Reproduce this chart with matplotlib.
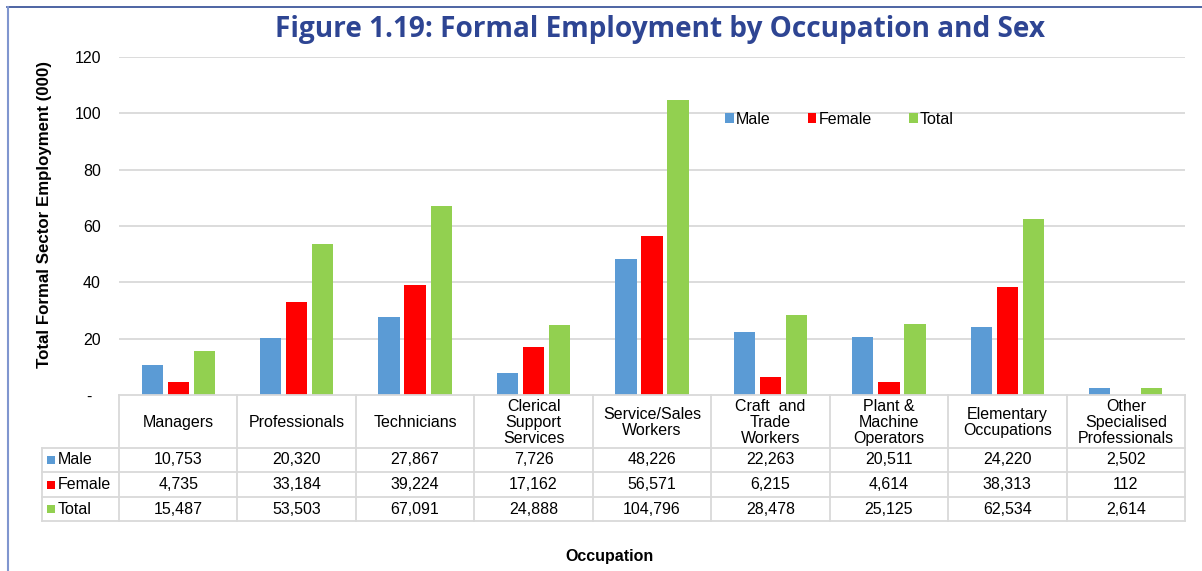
import matplotlib
matplotlib.use("Agg")
import matplotlib.pyplot as plt
from matplotlib.patches import Patch
from matplotlib.lines import Line2D
import numpy as np

# ---- data ----
categories = ["Managers", "Professionals", "Technicians", "Clerical\nSupport\nServices",
              "Service/Sales\nWorkers", "Craft  and\nTrade\nWorkers", "Plant &\nMachine\nOperators",
              "Elementary\nOccupations", "Other\nSpecialised\nProfessionals"]
male = [10753, 20320, 27867, 7726, 48226, 22263, 20511, 24220, 2502]
female = [4735, 33184, 39224, 17162, 56571, 6215, 4614, 38313, 112]
total = [15487, 53503, 67091, 24888, 104796, 28478, 25125, 62534, 2614]
series_names = ["Male", "Female", "Total"]
yticks = [0, 20, 40, 60, 80, 100, 120]
ytick_labels = ["-  ", "20", "40", "60", "80", "100", "120"]

colors = ["#5B9BD5", "#FF0000", "#92D050"]
series = [male, female, total]

plt.rcParams['font.family'] = ['Liberation Sans', 'DejaVu Sans']
W, H = 1202, 571
fig = plt.figure(figsize=(W / 100, H / 100), dpi=100)

def fx(px):
    return px / W

def fy(py):
    return 1 - py / H

ax_l, ax_r, ax_t, ax_b = 119, 1185, 57, 395
ax = fig.add_axes([fx(ax_l), fy(ax_b), fx(ax_r - ax_l), fy(ax_t) - fy(ax_b)])
x = np.arange(len(categories))
bw = 0.18
offs = [-0.22, 0.0, 0.22]
for vals, c, o, n in zip(series, colors, offs, series_names):
    ax.bar(x + o, np.array(vals) / 1000.0, width=bw, color=c, label=n, zorder=3)
ax.set_xlim(-0.5, len(categories) - 0.5)
ax.set_ylim(0, 120)
ax.set_yticks(yticks)
ax.set_yticklabels(ytick_labels, fontsize=11.5)
ax.set_xticks([])
ax.tick_params(axis='y', length=0, pad=13)
for s in ax.spines.values():
    s.set_visible(False)
for yv in yticks[1:]:
    ax.axhline(yv, color="#D9D9D9", lw=1.3, zorder=1)

handles = [Patch(facecolor=c, edgecolor='none', label=n) for c, n in zip(colors, series_names)]
fig.legend(handles=handles, loc='center left', bbox_to_anchor=(fx(725), fy(119)),
           ncol=3, frameon=False, fontsize=11.5, handlelength=0.55, handleheight=0.55,
           handletextpad=0.15, columnspacing=2.3, borderpad=0, borderaxespad=0)

# ---- data table ----
tb_l, tb_b = 42, 521
tax = fig.add_axes([fx(tb_l), fy(tb_b), fx(ax_r - tb_l), fy(ax_b) - fy(tb_b)])
unit = (ax_r - ax_l) / len(categories)
left_lim = -0.5 - (ax_l - tb_l) / unit
tax.set_xlim(left_lim, len(categories) - 0.5)
tax.set_ylim(tb_b, ax_b)
tax.axis('off')
gc = "#D9D9D9"
glw = 1.3
row_y = [395, 448, 472, 497, 521]
tax.plot([-0.5, len(categories) - 0.5], [row_y[0]] * 2, color=gc, lw=glw, clip_on=False)
for ry in row_y[1:]:
    tax.plot([left_lim, len(categories) - 0.5], [ry] * 2, color=gc, lw=glw, clip_on=False)
for i in range(len(categories) + 1):
    tax.plot([i - 0.5] * 2, [row_y[0], row_y[-1]], color=gc, lw=glw, clip_on=False)
tax.plot([left_lim] * 2, [row_y[1], row_y[-1]], color=gc, lw=glw, clip_on=False)

for i, cat in enumerate(categories):
    tax.text(i, (row_y[0] + row_y[1]) / 2 + 1, cat, ha='center', va='center',
             fontsize=11.5, linespacing=1.08)
for r, (vals, c, n) in enumerate(zip(series, colors, series_names)):
    yc = (row_y[r + 1] + row_y[r + 2]) / 2
    for i, v in enumerate(vals):
        tax.text(i, yc, f"{v:,}", ha='center', va='center', fontsize=11.5)
    tax.plot([left_lim + 0.075], [yc], marker='s', markersize=5.5, color=c,
             markeredgewidth=0, clip_on=False)
    tax.text(left_lim + 0.13, yc, n, ha='left', va='center', fontsize=11.5)

# ---- titles and labels ----
fig.text(fx(660), fy(29), "Figure 1.19: Formal Employment by Occupation and Sex",
         ha='center', va='center', fontsize=20.2, fontweight='bold', color="#2E4593",
         family=['Open Sans', 'DejaVu Sans'])
fig.text(fx(45), fy(214), "Total Formal Sector Employment (000)", rotation=90,
         ha='center', va='center', fontsize=12.2, fontweight='bold')
fig.text(fx(610), fy(556), "Occupation", ha='center', va='center', fontsize=11.5, fontweight='bold')

# ---- frame ----
fig.add_artist(Line2D([fx(7), 1], [fy(7), fy(7)], color="#2F4A94", lw=1.2))
fig.add_artist(Line2D([fx(8), fx(8)], [0, fy(7)], color="#8096CF", lw=1.5))

fig.savefig("out.png", dpi=100)
